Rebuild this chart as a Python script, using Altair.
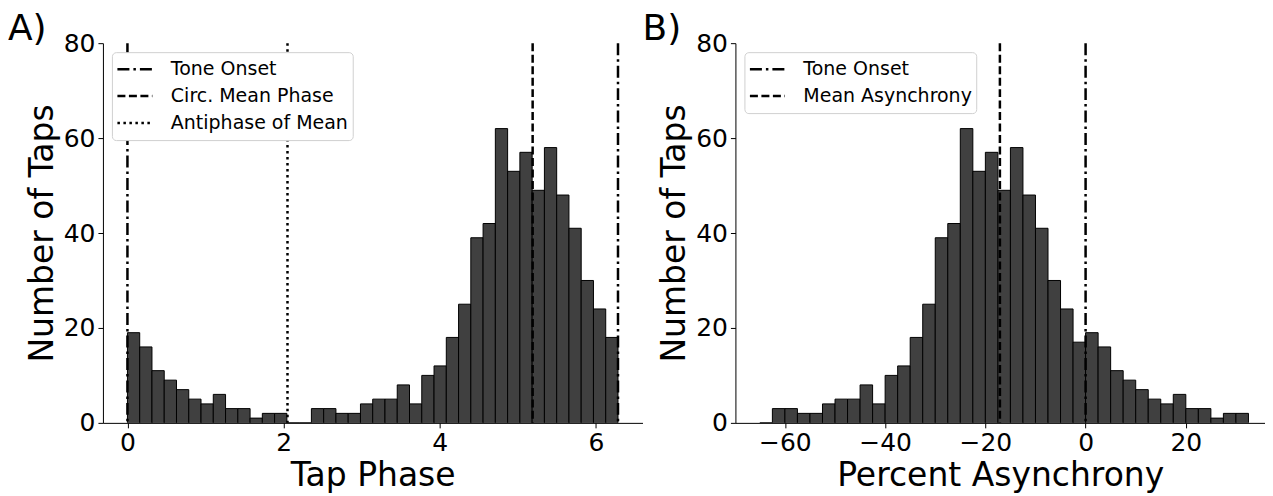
import math
import altair as alt
import pandas as pd

# ---------------- data ----------------
# Panel A: 40 bins spanning 0 .. 2*pi
A_COUNTS = [19, 16, 11, 9, 7, 5, 4, 6, 3, 3, 1, 2, 2, 0, 0, 3, 3, 2, 2, 4,
            5, 5, 8, 4, 10, 12, 18, 25, 39, 42, 62, 53, 57, 49, 58, 48, 41, 30, 24, 18]
A_START = 0.0
A_BINW = 2 * math.pi / 40
A_LINE_LABELS = ["Tone Onset", "Tone Onset", "Circ. Mean Phase", "Antiphase of Mean"]
A_LINE_POS = [0.0, 2 * math.pi, 5.19, 2.05]
A_LEGEND = ["Tone Onset", "Circ. Mean Phase", "Antiphase of Mean"]
A_TICKS = [0, 2, 4, 6]

# Panel B: bins of 2.5 % from -65 to 32.5
B_COUNTS = [0, 3, 3, 2, 2, 4, 5, 5, 8, 4, 10, 12, 18, 25, 39, 42, 62, 53, 57, 49,
            58, 48, 41, 30, 24, 17, 19, 16, 11, 9, 7, 5, 4, 6, 3, 3, 1, 2, 2]
B_START = -65.0
B_BINW = 2.5
B_LINE_LABELS = ["Tone Onset", "Mean Asynchrony"]
B_LINE_POS = [0.0, -17.1]
B_LEGEND = ["Tone Onset", "Mean Asynchrony"]
B_TICKS = [-60, -40, -20, 0, 20]

Y_TICKS = [0, 20, 40, 60, 80]

FONT = "DejaVu Sans"
DASHES = {
    "Tone Onset": [12, 4, 2.5, 4],
    "Circ. Mean Phase": [8, 3.5],
    "Antiphase of Mean": [2.5, 3.5],
    "Mean Asynchrony": [8, 3.5],
}


def panel(counts, start, binw, line_labels, line_pos, legend_order, xdomain,
          xticks, xtitle, letter, key, width, letter_dx):
    bins = pd.DataFrame({
        "x0": [start + i * binw for i in range(len(counts))],
        "x1": [start + (i + 1) * binw for i in range(len(counts))],
        "n": counts,
    })
    lines = pd.DataFrame({key: line_labels, "pos": line_pos})

    xscale = alt.Scale(domain=xdomain, nice=False, zero=False)
    bars = alt.Chart(bins).mark_bar(
        fill="#404040", stroke="black", strokeWidth=1, clip=True
    ).encode(
        x=alt.X("x0:Q", scale=xscale,
                axis=alt.Axis(values=xticks, title=xtitle, format="d")),
        x2="x1:Q",
        y=alt.Y("n:Q", scale=alt.Scale(domain=[0, 80], nice=False),
                axis=alt.Axis(values=Y_TICKS, title="Number of Taps")),
        y2=alt.datum(0),
    )
    rules = alt.Chart(lines).mark_rule(color="black", strokeWidth=2.5).encode(
        x=alt.X("pos:Q", scale=xscale),
        strokeDash=alt.StrokeDash(
            f"{key}:N",
            scale=alt.Scale(domain=legend_order,
                            range=[DASHES[k] for k in legend_order]),
            legend=alt.Legend(
                title=None, orient="top-left", offset=9, padding=4,
                rowPadding=1, clipHeight=26, symbolType="stroke",
                symbolSize=1225, symbolStrokeWidth=2.5,
                symbolStrokeColor="black", labelFont=FONT, labelFontSize=19,
                labelColor="black", labelOffset=17, strokeColor="#d0d0d0",
                cornerRadius=4, fillColor="white", labelLimit=400,
            ),
        ),
    )
    lt = alt.Chart(pd.DataFrame({"t": [letter]})).mark_text(
        font=FONT, fontSize=36, align="left", baseline="top", color="black"
    ).encode(x=alt.value(letter_dx), y=alt.value(-31), text="t:N")
    return alt.layer(bars, rules, lt).properties(width=width, height=380)


pa = panel(A_COUNTS, A_START, A_BINW, A_LINE_LABELS, A_LINE_POS, A_LEGEND,
           [-0.314, 6.597], A_TICKS, "Tap Phase", "A)", "kindA", 540, -95)
pb = panel(B_COUNTS, B_START, B_BINW, B_LINE_LABELS, B_LINE_POS, B_LEGEND,
           [-69.875, 35.8], B_TICKS, "Percent Asynchrony", "B)", "kindB", 530, -93)

chart = alt.hconcat(pa, pb, spacing=0).resolve_scale(
    strokeDash="independent", x="independent", y="independent"
).resolve_legend(strokeDash="independent").properties(
    padding={"left": 0, "top": 3, "right": 0, "bottom": 0}
).configure_view(stroke=None).configure_axis(
    labelFont=FONT, titleFont=FONT, labelFontSize=25, titleFontSize=33,
    labelColor="black", titleColor="black", titleFontWeight="normal",
    tickColor="black", domainColor="black", tickSize=5, grid=False,
    labelPadding=3, titlePadding=4, domainWidth=1, tickWidth=1,
)

chart.save("out.html", embed_options={"renderer": "svg", "actions": False})
